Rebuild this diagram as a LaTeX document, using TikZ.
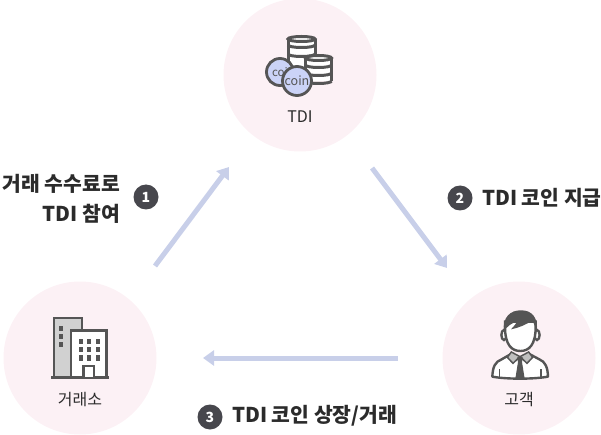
\documentclass[tikz,border=0pt]{standalone}
\usepackage{fontspec}
\setmainfont{Noto Sans CJK KR}
\usetikzlibrary{arrows.meta}
\definecolor{pinkbg}{HTML}{FCF1F5}
\definecolor{arrowc}{HTML}{C8CFE9}
\definecolor{badgec}{HTML}{47474D}
\definecolor{icon}{HTML}{555555}
\definecolor{coinc}{HTML}{CBD3F7}
\definecolor{txt}{HTML}{2B2B2B}
\tikzset{
 disc/.style={circle,fill=pinkbg,minimum size=153pt,inner sep=0pt},
 caption/.style={font=\fontsize{16}{18}\selectfont,text=txt,inner sep=0pt},
 flow/.style={draw=arrowc,line width=5pt,-{Triangle[length=11pt,width=15pt]},shorten >=0pt},
 badge/.style={circle,fill=badgec,text=white,minimum size=25pt,inner sep=0pt,font=\fontsize{14}{14}\selectfont\bfseries},
 lab/.style={font=\fontsize{20.4}{22}\selectfont\bfseries,text=txt,inner sep=0pt},
 ic/.style={draw=icon,line width=3pt},
}
\begin{document}
\begin{tikzpicture}[x=1pt,y=-1pt]
\useasboundingbox (0,0) rectangle (601,435);
\node[disc] (top) at (300,75) {};
\node[disc] (left) at (80,358) {};
\node[disc] (right) at (519,358) {};
\node[caption] (ttop) at (300,117) {TDI};
\node[caption] (tleft) at (80,400) {거래소};
\node[caption] (tright) at (519,400) {고객};
% arrows
\coordinate (a1s) at (155,266); \coordinate (a1e) at (229,167);
\coordinate (a2s) at (372,168); \coordinate (a2e) at (447,268);
\coordinate (a3s) at (398,358); \coordinate (a3e) at (203,358);
\draw[flow] (a1s) -- (a1e);
\draw[flow] (a2s) -- (a2e);
\draw[flow] (a3s) -- (a3e);
% badges and labels
\node[badge] (b1) at (146,197) {1};
\node[badge] (b2) at (460,198) {2};
\node[badge] (b3) at (210,417) {3};
\node[lab,anchor=east] (l1a) at (120,184) {거래 수수료로};
\node[lab,anchor=east] (l1b) at (120,214) {TDI 참여};
\node[lab,anchor=west] (l2) at (482,198) {TDI 코인 지급};
\node[lab,anchor=west] (l3) at (232,416) {TDI 코인 상장/거래};
% coin icon
\foreach \cx/\yt/\yb/\hw in {301.5/39/68/13.5,318.5/58/81/13}{
 \fill[white] (\cx-\hw,\yt) rectangle (\cx+\hw,\yb);
 \draw[ic] (\cx-\hw,\yt) -- (\cx-\hw,\yb) (\cx+\hw,\yt) -- (\cx+\hw,\yb);
 \draw[ic,fill=white] (\cx,\yt) ellipse (\hw pt and 2.5pt);
 \draw[ic] (\cx-\hw,\yb) arc[start angle=180,end angle=360,x radius=\hw pt,y radius=2.5pt];
}
\foreach \cx/\yy/\hw in {301.5/45/13.5,301.5/54/13.5,318.5/65/13,318.5/73/13}{
 \draw[icon,line width=3pt] (\cx-\hw,\yy) arc[start angle=180,end angle=360,x radius=\hw pt,y radius=2.5pt];
}
\node[circle,draw=icon,line width=2.8pt,fill=coinc,minimum size=27pt,inner sep=0pt,font=\fontsize{11.5}{11}\selectfont,text=icon] (coinb) at (280,72) {coi};
\node[circle,draw=icon,line width=2.8pt,fill=coinc,minimum size=29pt,inner sep=0pt,font=\fontsize{12.5}{11}\selectfont,text=icon] (coinf) at (297,81) {coin};
% building icon
\draw[draw=icon,line width=2.6pt,fill=black!18] (54,377) -- (54,318) -- (82,318) -- (82,377) -- cycle;
\draw[draw=icon,line width=2.6pt,fill=white] (71,377) -- (71,330.5) -- (106.5,330.5) -- (106.5,377) -- cycle;
\draw[icon,line width=3pt] (51,377.5) -- (109,377.5);
\foreach \yy in {326,334,342}{\fill[icon] (59,\yy) rectangle (63,\yy+5);}
\foreach \xx in {78.5,87,95.5}{\foreach \yy in {338.5,346.5,355}{\fill[icon] (\xx,\yy) rectangle (\xx+4,\yy+5.5);}}
\draw[draw=icon,line width=2.6pt,fill=white] (83.5,377) -- (83.5,366) -- (94,366) -- (94,377);
% person icon
\begin{scope}[shift={(440,280)},x=0.3333pt,y=-0.3333pt]
 % shoulders
 \draw[draw=icon,line width=2.4pt,fill=white,line join=round] (157,290) .. controls (158,262) and (165,245) .. (185,238) -- (213,222) -- (240,240) -- (268,222) -- (298,238) .. controls (316,245) and (323,262) .. (324,290) .. controls (280,298) and (200,298) .. (157,290) -- cycle;
 % ears
 \draw[draw=icon,line width=2.4pt,fill=white] (192,165) ellipse (2.6pt and 5pt);
 \draw[draw=icon,line width=2.4pt,fill=white] (291,165) ellipse (2.6pt and 5pt);
 % face
 \draw[draw=icon,line width=2.4pt,fill=white] (195,140) .. controls (195,195) and (215,213) .. (241,213) .. controls (267,213) and (287,195) .. (287,140) -- (287,125) -- (195,125) -- cycle;
 % hair
 \fill[icon] (192,155) .. controls (186,112) and (212,90) .. (243,91) .. controls (276,90) and (296,115) .. (290,155) .. controls (287,145) and (284,132) .. (276,122) .. controls (258,134) and (235,144) .. (213,148) .. controls (222,138) and (228,132) .. (232,124) .. controls (218,128) and (200,138) .. (192,155) -- cycle;
 % collar
 \draw[draw=icon,line width=1.5pt,fill=black!25] (214,216) -- (202,232) -- (219,250) -- (240,230) -- cycle;
 \draw[draw=icon,line width=1.5pt,fill=black!25] (266,216) -- (278,232) -- (261,250) -- (240,230) -- cycle;
 % tie
 \fill[icon] (231,232) -- (249,232) -- (246,246) -- (254,296) -- (226,296) -- (234,246) -- cycle;
 % sleeve marks
 \draw[icon,line width=1.2pt] (178,268) -- (178,290) (303,268) -- (303,290);
\end{scope}
\end{tikzpicture}
\end{document}
